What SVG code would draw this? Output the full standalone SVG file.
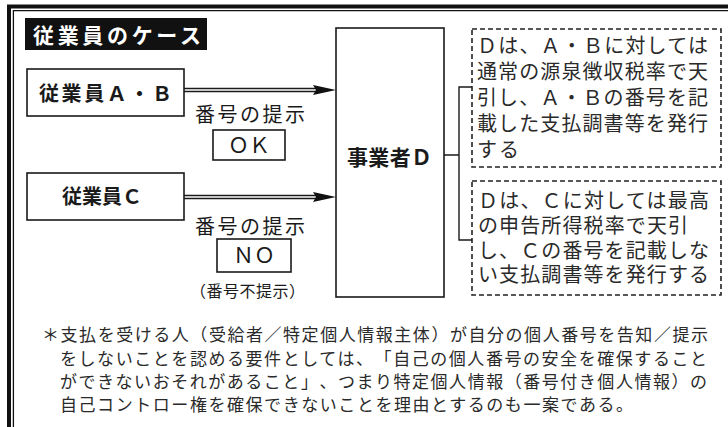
<svg xmlns="http://www.w3.org/2000/svg" width="728" height="427" viewBox="0 0 728 427">
<style>
.box{fill:#fff;stroke:#1a1a1a;stroke-width:1.6}
.dash{fill:#fff;stroke:#222;stroke-width:1.6;stroke-dasharray:5 3}
.ln{fill:none;stroke:#1a1a1a;stroke-width:1.4}
.t{font-family:"Liberation Sans","Noto Sans CJK JP",sans-serif;fill:#1a1a1a;text-spacing-trim:space-all}
.b{font-weight:bold}
.g{fill:#2a2a2a}
.n{font-size:20px}
</style>
<defs>
<polygon id="head" points="-23,-5 0,0 -23,5 -20,0" fill="#111"/>
</defs>
<g id="frame">
<path d="M9,427 V6.5 H728" fill="none" stroke="#111" stroke-width="4"/>
<path d="M13.4,427 V10.7 H728" fill="none" stroke="#111" stroke-width="1.3"/>
</g>
<g id="title">
<rect x="25" y="18" width="182" height="32" fill="#111"/>
<text class="t b" x="33" y="43" font-size="21" style="fill:#fff" textLength="168" lengthAdjust="spacing">従業員のケース</text>
</g>
<g id="connectors">
<path class="ln" d="M184,88.5 H318 M184,91.5 H318"/>
<use href="#head" x="336" y="90"/>
<path class="ln" d="M184,195.5 H318 M184,198.5 H318"/>
<use href="#head" x="336" y="197"/>
<path class="ln" d="M444,155 H459 M472,87 H459 V240 H472"/>
</g>
<g id="nodeAB">
<rect class="box" x="27" y="69" width="157" height="47"/>
<text class="t b" x="39" y="101" font-size="20" textLength="133" lengthAdjust="spacing">従業員Ａ・Ｂ</text>
</g>
<g id="labelOK">
<text class="t" x="195" y="122" font-size="20" textLength="110" lengthAdjust="spacing">番号の提示</text>
<rect class="box" x="213" y="130" width="72" height="30"/>
<text class="t" x="249" y="153" font-size="21" text-anchor="middle">ＯＫ</text>
</g>
<g id="nodeC">
<rect class="box" x="27" y="173" width="157" height="47"/>
<text class="t b" x="62" y="204" font-size="20" textLength="80" lengthAdjust="spacing">従業員Ｃ</text>
</g>
<g id="labelNO">
<text class="t" x="195" y="234" font-size="20" textLength="110" lengthAdjust="spacing">番号の提示</text>
<rect class="box" x="217" y="239" width="74" height="33"/>
<text class="t" x="254" y="263" font-size="21" text-anchor="middle">ＮＯ</text>
<text class="t" x="190" y="297" font-size="16" textLength="115" lengthAdjust="spacing">（番号不提示）</text>
</g>
<g id="nodeD">
<rect class="box" x="336" y="28" width="108" height="269"/>
<text class="t b" x="347" y="165" font-size="21" textLength="85" lengthAdjust="spacing">事業者Ｄ</text>
</g>
<g id="noteAB">
<rect class="dash" x="472" y="29" width="249" height="138"/>
<text class="t g n" x="477" y="53" textLength="231" lengthAdjust="spacing">Ｄは、Ａ・Ｂに対しては</text>
<text class="t g n" x="477" y="79" textLength="231" lengthAdjust="spacing">通常の源泉徴収税率で天</text>
<text class="t g n" x="477" y="105" textLength="231" lengthAdjust="spacing">引し、Ａ・Ｂの番号を記</text>
<text class="t g n" x="477" y="131" textLength="231" lengthAdjust="spacing">載した支払調書等を発行</text>
<text class="t g n" x="477" y="157" textLength="42" lengthAdjust="spacing">する</text>
</g>
<g id="noteC">
<rect class="dash" x="472" y="181" width="249" height="114"/>
<text class="t g n" x="478" y="208" textLength="231" lengthAdjust="spacing">Ｄは、Ｃに対しては最高</text>
<text class="t g n" x="478" y="233" textLength="210" lengthAdjust="spacing">の申告所得税率で天引</text>
<text class="t g n" x="478" y="258" textLength="231" lengthAdjust="spacing">し、Ｃの番号を記載しな</text>
<text class="t g n" x="478" y="282" textLength="231" lengthAdjust="spacing">い支払調書等を発行する</text>
</g>
<g id="footnote">
<text class="t g" x="42" y="341" font-size="17" textLength="666" lengthAdjust="spacing">＊支払を受ける人（受給者／特定個人情報主体）が自分の個人番号を告知／提示</text>
<text class="t g" x="60" y="365" font-size="17" textLength="647" lengthAdjust="spacing">をしないことを認める要件としては、「自己の個人番号の安全を確保すること</text>
<text class="t g" x="60" y="388" font-size="17" textLength="647" lengthAdjust="spacing">ができないおそれがあること」、つまり特定個人情報（番号付き個人情報）の</text>
<text class="t g" x="60" y="411" font-size="17" textLength="573" lengthAdjust="spacing">自己コントロー権を確保できないことを理由とするのも一案である。</text>
</g>
</svg>
